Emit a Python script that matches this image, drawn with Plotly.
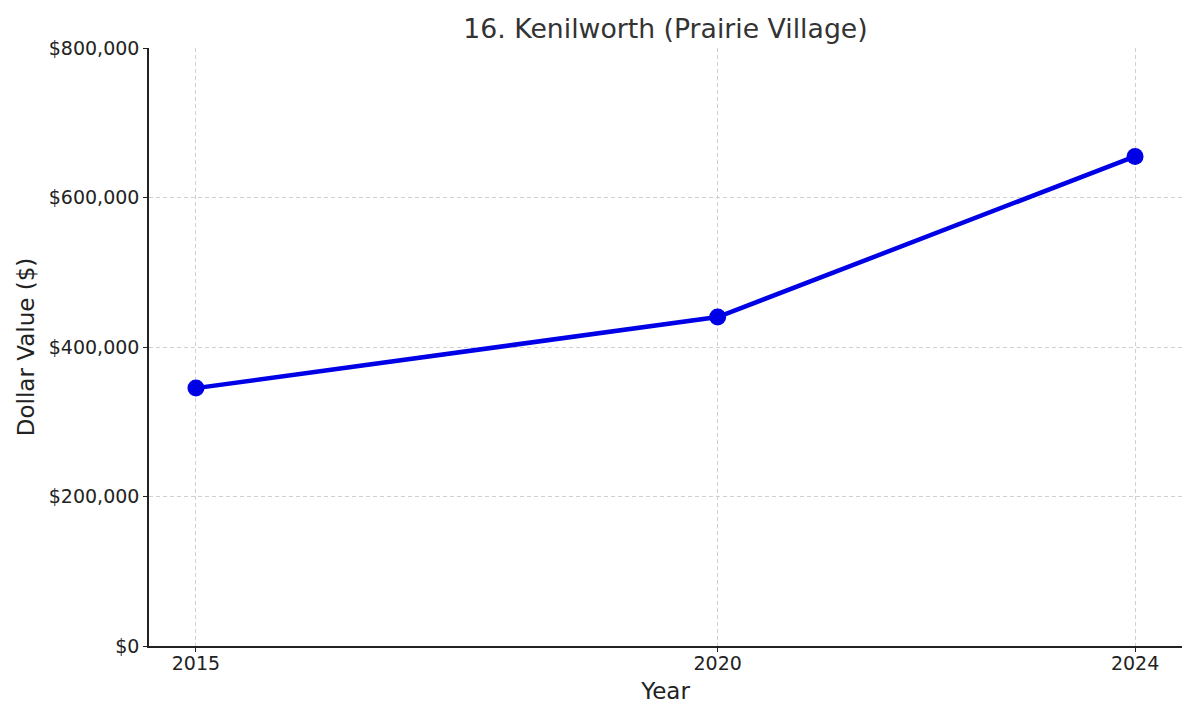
import plotly.graph_objects as go

years = [2015, 2020, 2024]
values = [345000, 440000, 655000]
y_ticks = [0, 200000, 400000, 600000, 800000]
y_labels = ["$0", "$200,000", "$400,000", "$600,000", "$800,000"]
x_ticks = [2015, 2020, 2024]

fig = go.Figure()
fig.add_trace(go.Scatter(
    x=years, y=values, mode="lines+markers",
    line=dict(color="#0000e6", width=4.5),
    marker=dict(color="#0000e6", size=17),
    showlegend=False,
))

font = "DejaVu Sans, sans-serif"
fig.update_layout(
    width=1200, height=720,
    margin=dict(l=141, r=26, t=40, b=82),
    paper_bgcolor="white", plot_bgcolor="white",
    font=dict(family=font, color="#222222", size=19),
    title=dict(text="16. Kenilworth (Prairie Village)", x=0.5, xanchor="center",
               xref="paper", y=0.971, yanchor="middle",
               font=dict(size=26.7, color="#333333")),
)
fig.update_xaxes(
    range=[2014.55, 2024.45], tickvals=x_ticks, ticktext=[str(v) for v in x_ticks],
    showline=True, linecolor="#222222", linewidth=1.5, mirror=False,
    ticks="outside", ticklen=4, tickcolor="#222222",
    ticklabelstandoff=-5,
    showgrid=True, gridcolor="#d0d0d0", griddash="4px,3px", gridwidth=1,
    zeroline=False,
    title=dict(text="Year", font=dict(size=23), standoff=10),
    tickfont=dict(size=19),
)
fig.update_yaxes(
    range=[0, 800000], tickvals=y_ticks, ticktext=y_labels,
    showline=True, linecolor="#222222", linewidth=1.5, mirror=False,
    ticks="outside", ticklen=4, tickcolor="#222222",
    showgrid=True, gridcolor="#d0d0d0", griddash="4px,3px", gridwidth=1,
    zeroline=False,
    title=dict(text="Dollar Value ($)", font=dict(size=23), standoff=8),
    tickfont=dict(size=19),
)
fig.write_html("out.html")
